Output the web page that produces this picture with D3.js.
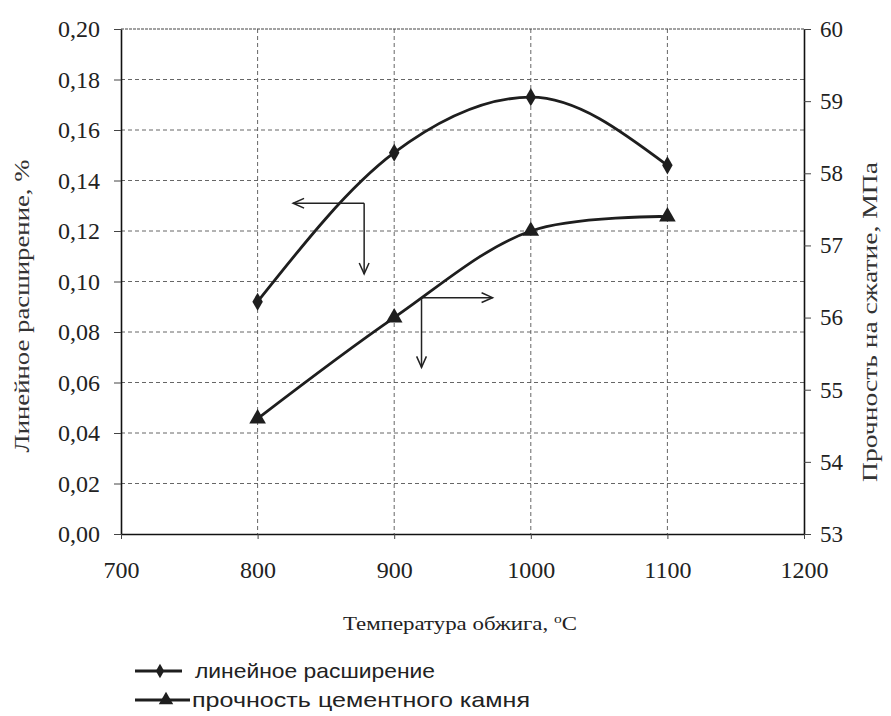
<!DOCTYPE html>
<html>
<head>
<meta charset="utf-8">
<script src="https://cdn.jsdelivr.net/npm/d3@7/dist/d3.min.js"></script>
<style>
  body { margin: 0; background: #fff; }
  svg { display: block; }
</style>
</head>
<body>
<svg id="chart" width="891" height="716"></svg>
<script>
// data
const temps = [800, 900, 1000, 1100];
const expansion = [0.092, 0.151, 0.173, 0.146];     // left axis, %
const strength = [54.6, 56.0, 57.2, 57.4];          // right axis, MPa
const xTicks = [700, 800, 900, 1000, 1100, 1200];
const yLeftTicks = [0, 0.02, 0.04, 0.06, 0.08, 0.10, 0.12, 0.14, 0.16, 0.18, 0.20];
const yRightTicks = [53, 54, 55, 56, 57, 58, 59, 60];
const xGrid = [800, 900, 1000, 1100];
const legendLabels = ["линейное расширение", "прочность цементного камня"];

// pointer arrows, in data units (temperature, left-axis value)
const arrowLeft = {corner: [878, 0.131], tipX: 826, tipY: 0.103};
const arrowRight = {corner: [920, 0.0936], tipX: 972, tipY: 0.066};

const SERIF = "'Liberation Serif', 'Times New Roman', serif";
const NARROW = "'Liberation Sans Narrow', 'Liberation Sans', sans-serif";

let svg = d3.select("#chart");
let margin = {left: 121, top: 29, right: 87, bottom: 182};
let width = +svg.attr("width") - margin.left - margin.right;
let height = +svg.attr("height") - margin.top - margin.bottom;

let x = d3.scaleLinear().domain([700, 1200]).range([0, width]);
let yL = d3.scaleLinear().domain([0, 0.2]).range([height, 0]);
let yR = d3.scaleLinear().domain([53, 60]).range([height, 0]);

let g = svg.append("g").attr("transform", `translate(${margin.left}, ${margin.top})`);

// grid
g.append("g").selectAll("line")
    .data(yLeftTicks.slice(1, -1))
    .enter().append("line")
    .attr("x1", 0).attr("x2", width)
    .attr("y1", d => yL(d)).attr("y2", d => yL(d))
    .attr("stroke", "#555").attr("stroke-width", 0.9)
    .attr("stroke-dasharray", "4,3");
g.append("g").selectAll("line")
    .data(xGrid)
    .enter().append("line")
    .attr("x1", d => x(d)).attr("x2", d => x(d))
    .attr("y1", 0).attr("y2", height)
    .attr("stroke", "#555").attr("stroke-width", 0.9)
    .attr("stroke-dasharray", "4,3");
// top border
g.append("line")
    .attr("x1", 0).attr("x2", width).attr("y1", 0).attr("y2", 0)
    .attr("stroke", "#444").attr("stroke-width", 1.2)
    .attr("stroke-dasharray", "3,1");

let fmtComma = d => d3.format(".2f")(d).replace(".", ",");

// axes
let axL = g.append("g")
    .call(d3.axisLeft(yL).tickValues(yLeftTicks).tickFormat(fmtComma).tickSize(7).tickPadding(14).tickSizeOuter(0));
axL.selectAll("text").style("font-size", "24px");

let axR = g.append("g")
    .attr("transform", `translate(${width}, 0)`)
    .call(d3.axisRight(yR).tickValues(yRightTicks).tickFormat(d3.format("d")).tickSize(7).tickPadding(9).tickSizeOuter(0));
axR.selectAll("text").style("font-size", "23px");

let axB = g.append("g")
    .attr("transform", `translate(0, ${height})`)
    .call(d3.axisBottom(x).tickValues(xTicks).tickFormat(d3.format("d")).tickSize(5).tickPadding(22).tickSizeOuter(0));
axB.selectAll("text").style("font-size", "24px");

[axL, axR, axB].forEach(a => {
    a.attr("font-family", null);
    a.selectAll("text").style("font-family", SERIF).attr("fill", "#222");
    a.select(".domain").attr("stroke", "#111").attr("stroke-width", 1.6);
    a.selectAll(".tick line").attr("stroke", "#444").attr("stroke-width", 1);
});

// axis titles
svg.append("text")
    .attr("transform", `translate(29, ${306}) rotate(-90)`)
    .attr("text-anchor", "middle")
    .style("font-family", SERIF)
    .style("font-size", "22px")
    .attr("fill", "#333")
    .attr("textLength", 293).attr("lengthAdjust", "spacingAndGlyphs")
    .text("Линейное расширение, %");

svg.append("text")
    .attr("transform", `translate(877, ${322}) rotate(-90)`)
    .attr("text-anchor", "middle")
    .style("font-family", SERIF)
    .style("font-size", "22px")
    .attr("fill", "#333")
    .attr("textLength", 320).attr("lengthAdjust", "spacingAndGlyphs")
    .text("Прочность на сжатие, МПа");

let xt = svg.append("text")
    .attr("x", 343).attr("y", 630)
    .style("font-family", SERIF)
    .style("font-size", "19px")
    .attr("fill", "#222")
    .attr("textLength", 234).attr("lengthAdjust", "spacingAndGlyphs");
xt.append("tspan").text("Температура обжига, ");
xt.append("tspan").attr("dy", -7).style("font-size", "13px").text("o");
xt.append("tspan").attr("dy", 7).text("C");

// series
let ptsE = temps.map((t, i) => [t, expansion[i]]);
let ptsS = temps.map((t, i) => [t, strength[i]]);

let lineE = d3.line().x(d => x(d[0])).y(d => yL(d[1])).curve(d3.curveMonotoneX);
let lineS = d3.line().x(d => x(d[0])).y(d => yR(d[1])).curve(d3.curveCatmullRom.alpha(0.5));

g.append("path").datum(ptsE).attr("d", lineE)
    .attr("fill", "none").attr("stroke", "#1e1e1e").attr("stroke-width", 2.8);
g.append("path").datum(ptsS).attr("d", lineS)
    .attr("fill", "none").attr("stroke", "#1e1e1e").attr("stroke-width", 2.8);

let diamond = d3.symbol().type(d3.symbolDiamond).size(95);
let triangle = d3.symbol().type(d3.symbolTriangle).size(120);

g.selectAll(".mE").data(ptsE).enter().append("path")
    .attr("class", "mE")
    .attr("transform", d => `translate(${x(d[0])}, ${yL(d[1])})`)
    .attr("d", diamond).attr("fill", "#1e1e1e");
g.selectAll(".mS").data(ptsS).enter().append("path")
    .attr("class", "mS")
    .attr("transform", d => `translate(${x(d[0])}, ${yR(d[1])})`)
    .attr("d", triangle).attr("fill", "#1e1e1e");

// pointer arrows
let drawArrow = (x1, y1, x2, y2) => {
    g.append("line")
        .attr("x1", x1).attr("y1", y1).attr("x2", x2).attr("y2", y2)
        .attr("stroke", "#222").attr("stroke-width", 1.5);
    let ang = Math.atan2(y2 - y1, x2 - x1);
    let len = 12, spread = 0.42;
    let head = [
        [x2 - len * Math.cos(ang - spread), y2 - len * Math.sin(ang - spread)],
        [x2, y2],
        [x2 - len * Math.cos(ang + spread), y2 - len * Math.sin(ang + spread)]
    ];
    g.append("path").attr("d", d3.line()(head))
        .attr("fill", "none").attr("stroke", "#222").attr("stroke-width", 1.5);
};
for (let a of [arrowLeft, arrowRight]) {
    let cx = x(a.corner[0]), cy = yL(a.corner[1]);
    drawArrow(cx, cy, x(a.tipX), cy);
    drawArrow(cx, cy, cx, yL(a.tipY));
}

// legend
let legend = svg.append("g").attr("transform", "translate(135, 671)");
let rowGap = 29;
let legendTextX = [60, 57];
let legendTextLen = [240, 338];
legendLabels.forEach((label, i) => {
    let row = legend.append("g").attr("transform", `translate(0, ${i * rowGap})`);
    row.append("line")
        .attr("x1", 0).attr("x2", i === 0 ? 47 : 55).attr("y1", 0).attr("y2", 0)
        .attr("stroke", "#1e1e1e").attr("stroke-width", 2.8);
    row.append("path")
        .attr("transform", `translate(${i === 0 ? 25 : 31}, 0)`)
        .attr("d", i === 0 ? d3.symbol().type(d3.symbolDiamond).size(60) : d3.symbol().type(d3.symbolTriangle).size(90))
        .attr("fill", "#1e1e1e");
    row.append("text")
        .attr("x", legendTextX[i]).attr("y", 7)
        .style("font-family", NARROW)
        .style("font-size", "21px")
        .attr("fill", "#222")
        .attr("textLength", legendTextLen[i]).attr("lengthAdjust", "spacingAndGlyphs")
        .text(label);
});
</script>
</body>
</html>
